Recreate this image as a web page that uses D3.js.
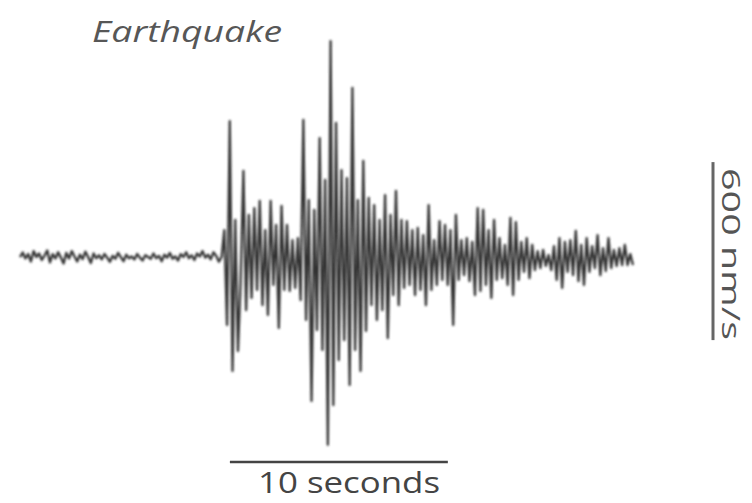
<!DOCTYPE html>
<html>
<head>
<meta charset="utf-8">
<script src="https://cdn.jsdelivr.net/npm/d3@7"></script>
<style>
  html, body { margin: 0; padding: 0; background: #fff; }
  svg { display: block; }
</style>
</head>
<body>
<svg id="chart" width="752" height="503"></svg>
<script>
// ---- data ----
const title = "Earthquake";
const sampleStep = 0.125;            // seconds between samples
// ground velocity (nm/s), pre-event noise
const noiseValues = [
  10,25,5,20,-5,30,10,22,0,15,
  32,-8,20,5,26,8,-12,24,5,30,
  12,-5,18,3,28,10,-10,22,6,16,
  2,20,8,-6,14,4,24,10,-4,18,
  6,12,2,20,8,-2,16,10,4,22,
  6,14,-4,18,8,24,4,12,-2,20,
  10,26,6,16,0,22,12,30,8,18,
  2,26,14,-6,10
];
// ground velocity (nm/s), earthquake arrival and coda
const quakeValues = [
  101,-219,468,-374,135,-307,-67,300,-169,152,
  -128,175,-101,199,-152,101,-185,199,-84,118,
  -229,182,-101,118,-104,67,-94,74,-135,472,
  -202,202,-475,169,-236,411,-303,270,-623,738,
  -489,462,-337,303,-270,276,-421,580,-303,202,
  -374,334,-239,209,-152,185,-202,135,-169,219,
  -263,152,-118,233,-152,135,-94,131,-84,101,
  -118,108,-101,84,-152,185,-101,67,-84,131,
  -67,118,-84,101,-219,152,-67,67,-51,74,
  -71,61,-118,175,-104,169,-84,101,-128,135,
  -67,74,-61,51,-84,142,-118,128,-67,61,
  -40,74,-61,51,-34,30,-27,34,-20,17,
  -34,47,-67,74,-94,61,-40,67,-51,98,
  -71,51,-84,74,-40,47,-27,84,-51,40,
  -37,74,-27,34,-20,40,-17,51,-17,20,
  -17
];
const timeBar = { start: 9.63, length: 10, label: "10 seconds" };
const velBar = { start: -270, length: 600, label: "600 nm/s" };

const values = noiseValues.concat(quakeValues);
const series = values.map((v, i) => ({ t: i * sampleStep, v }));

// ---- scales ----
const svg = d3.select("#chart");
const tMax = (values.length - 1) * sampleStep;
const x = d3.scaleLinear().domain([0, tMax]).range([20, 633]);
const y = d3.scaleLinear().domain([-600, 600]).range([438, 82]);

const defs = svg.append("defs");
defs.append("filter").attr("id", "soft")
  .attr("x", "-5%").attr("y", "-5%").attr("width", "110%").attr("height", "110%")
  .append("feGaussianBlur").attr("stdDeviation", 0.9);

// ---- trace ----
const line = d3.line().x(d => x(d.t)).y(d => y(d.v));
svg.append("path")
  .datum(series)
  .attr("d", line)
  .attr("fill", "none")
  .attr("stroke", "#333")
  .attr("stroke-width", 2.3)
  .attr("stroke-linejoin", "round")
  .attr("filter", "url(#soft)");

// ---- title ----
svg.append("text")
  .attr("x", 92).attr("y", 42)
  .attr("font-family", "'Open Sans', sans-serif")
  .attr("font-style", "italic")
  .attr("font-size", 30)
  .attr("fill", "#575757")
  .attr("textLength", 190)
  .attr("lengthAdjust", "spacingAndGlyphs")
  .text(title);

// ---- time scale bar ----
svg.append("line")
  .attr("x1", x(timeBar.start)).attr("x2", x(timeBar.start + timeBar.length))
  .attr("y1", 462).attr("y2", 462)
  .attr("stroke", "#444").attr("stroke-width", 2.5);
svg.append("text")
  .attr("x", 258).attr("y", 493)
  .attr("font-family", "'Open Sans', sans-serif")
  .attr("font-size", 29)
  .attr("fill", "#444")
  .attr("textLength", 182)
  .attr("lengthAdjust", "spacingAndGlyphs")
  .text(timeBar.label);

// ---- velocity scale bar ----
svg.append("line")
  .attr("x1", 713).attr("x2", 713)
  .attr("y1", y(velBar.start)).attr("y2", y(velBar.start + velBar.length))
  .attr("stroke", "#666").attr("stroke-width", 3);
svg.append("text")
  .attr("transform", "translate(722,168) rotate(90)")
  .attr("font-family", "'Open Sans', sans-serif")
  .attr("font-size", 26)
  .attr("fill", "#555")
  .attr("textLength", 172)
  .attr("lengthAdjust", "spacingAndGlyphs")
  .text(velBar.label);
</script>
</body>
</html>
